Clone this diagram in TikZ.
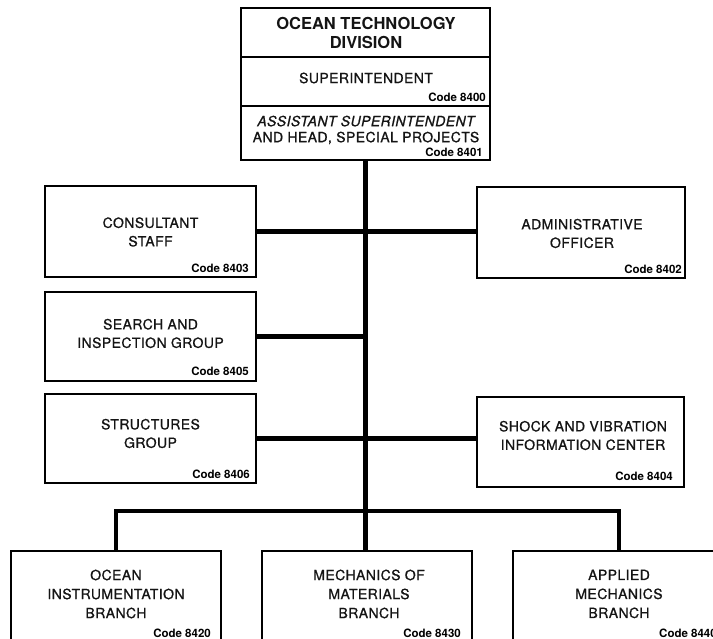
\documentclass[tikz,border=0pt]{standalone}
\usepackage{fontspec}
\setmainfont{TeX Gyre Heros}
\newfontfamily\medfont{TeX Gyre Heros}[FakeBold=0.9, LetterSpace=3]
\newfontfamily\medfontit{TeX Gyre Heros}[FakeBold=0.9, LetterSpace=3, UprightFont=*-Italic]
\begin{document}
\begin{tikzpicture}[x=1pt,y=-1pt,
  box/.style={draw=black, line width=1.3pt, inner sep=0pt, rectangle},
  lbl/.style={font=\medfont\fontsize{14}{18.5}\selectfont, align=center, inner sep=0pt, text=black!92},
  codetxt/.style={font=\bfseries\fontsize{11.5}{13}\selectfont, anchor=base east, inner sep=0pt},
  bar/.style={draw=black, line width=4.8pt, line join=miter}]
\useasboundingbox (0,0) rectangle (713,639);

% top box
\node[box, minimum width=249pt, minimum height=152pt] (top) at (365.5,84) {};
\coordinate (d1) at (0,57);
\coordinate (d2) at (0,106);
\draw[line width=1.3pt] (top.west |- d1) -- (top.east |- d1);
\draw[line width=1.3pt] (top.west |- d2) -- (top.east |- d2);
\node[lbl, font=\bfseries\fontsize{16.5}{19}\selectfont] (ttl) at (366,32.5) {OCEAN TECHNOLOGY\\DIVISION};
\node[lbl] (sup) at (366,78) {SUPERINTENDENT};
\node[codetxt] (c8400) at (486,102) {Code 8400};
\node[lbl, font=\medfont\fontsize{14}{16}\selectfont] (asst) at (366,130) {{\medfontit ASSISTANT SUPERINTENDENT}\\AND HEAD, SPECIAL PROJECTS};
\node[codetxt] (c8401) at (483,157) {Code 8401};

% left boxes
\node[box, minimum width=211pt, minimum height=91pt] (cons) at (150.5,231.5) {};
\node[lbl] (tcons) at (150.5,232) {CONSULTANT\\STAFF};
\node[codetxt] (c8403) at (249,273) {Code 8403};

\node[box, minimum width=211pt, minimum height=89pt] (srch) at (150.5,336.5) {};
\node[lbl] (tsrch) at (150.5,333.5) {SEARCH AND\\INSPECTION GROUP};
\node[codetxt] (c8405) at (249,375) {Code 8405};

\node[box, minimum width=211pt, minimum height=89pt] (strc) at (150.5,438.5) {};
\node[lbl] (tstrc) at (150.5,433.5) {STRUCTURES\\GROUP};
\node[codetxt] (c8406) at (250,478) {Code 8406};

% right boxes
\node[box, minimum width=208pt, minimum height=91pt] (admn) at (581,232.5) {};
\node[lbl] (tadmn) at (582,233.5) {ADMINISTRATIVE\\OFFICER};
\node[codetxt] (c8402) at (682,274) {Code 8402};

\node[box, minimum width=207pt, minimum height=90pt] (shck) at (580.5,442) {};
\node[lbl] (tshck) at (583,435.5) {SHOCK AND VIBRATION\\INFORMATION CENTER};
\node[codetxt] (c8404) at (673,480) {Code 8404};

% bottom boxes
\node[box, minimum width=210pt, minimum height=109pt] (bo) at (116,605.5) {};
\node[lbl, font=\medfont\fontsize{14}{19}\selectfont] (tbo) at (116,594) {OCEAN\\INSTRUMENTATION\\BRANCH};
\node[codetxt] (c8420) at (211,637) {Code 8420};

\node[box, minimum width=210pt, minimum height=109pt] (bm) at (367,605.5) {};
\node[lbl, font=\medfont\fontsize{14}{19}\selectfont] (tbm) at (369,594) {MECHANICS OF\\MATERIALS\\BRANCH};
\node[codetxt] (c8430) at (461,637) {Code 8430};

\node[box, minimum width=212pt, minimum height=109pt] (ba) at (619,605.5) {};
\node[lbl, font=\medfont\fontsize{14}{19}\selectfont] (tba) at (619,594) {APPLIED\\MECHANICS\\BRANCH};
\node[codetxt, anchor=base west] (c8440) at (659,637) {Code 8440};

% connectors
\coordinate (bj) at (366,511);
\draw[bar] (top.south) -- (top.south |- bm.north);
\draw[bar] (cons.east) -- (admn.west |- cons.east);
\draw[bar] (srch.east) -- (top.south |- srch.east);
\draw[bar] (strc.east) -- (shck.west |- strc.east);
\draw[bar] (bo.north) -- (bo.north |- bj) -- (ba.north |- bj) -- (ba.north);
\end{tikzpicture}
\end{document}
